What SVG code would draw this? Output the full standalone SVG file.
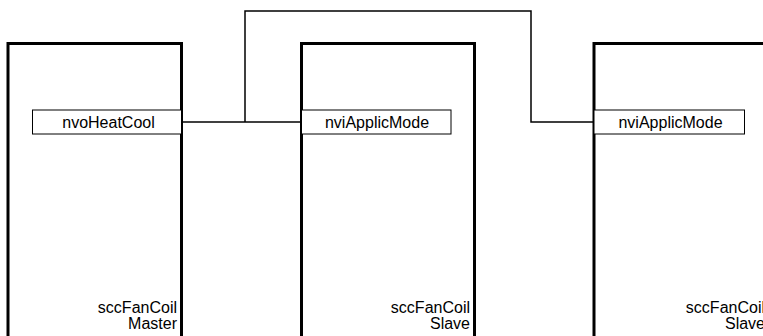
<svg xmlns="http://www.w3.org/2000/svg" width="763" height="336" viewBox="0 0 763 336">
<style>
.blk{fill:#fff;stroke:#000;stroke-width:3}
.port{fill:#fff;stroke:#000;stroke-width:1}
.wire{fill:none;stroke:#000;stroke-width:1.5}
text{font-family:"Liberation Sans",Arial,sans-serif;font-size:16px;fill:#000}
.pt{text-anchor:middle}
.nm{text-anchor:end}
</style>
<rect width="763" height="336" fill="#fff"/>
<g id="connectors">
<polyline class="wire" points="181.5,122 301.5,122"/>
<polyline class="wire" points="245,122 245,11 531,11 531,122 594,122"/>
</g>
<g id="master">
<rect class="blk" x="8" y="43.5" width="173.5" height="310"/>
<rect class="port" x="32.5" y="110" width="149" height="24"/>
<text class="pt" x="108.5" y="127.5">nvoHeatCool</text>
<text class="nm" x="177" y="313">sccFanCoil</text>
<text class="nm" x="177" y="329">Master</text>
</g>
<g id="slave1">
<rect class="blk" x="301.5" y="43.5" width="173" height="310"/>
<rect class="port" x="301.5" y="110" width="149.5" height="24"/>
<text class="pt" x="377" y="127.5">nviApplicMode</text>
<text class="nm" x="470" y="313">sccFanCoil</text>
<text class="nm" x="470" y="329">Slave</text>
</g>
<g id="slave2">
<rect class="blk" x="594" y="43.5" width="175" height="310"/>
<rect class="port" x="594" y="110" width="150.5" height="24"/>
<text class="pt" x="670.5" y="127.5">nviApplicMode</text>
<text class="nm" x="765" y="313">sccFanCoil</text>
<text class="nm" x="765" y="329">Slave</text>
</g>
</svg>
